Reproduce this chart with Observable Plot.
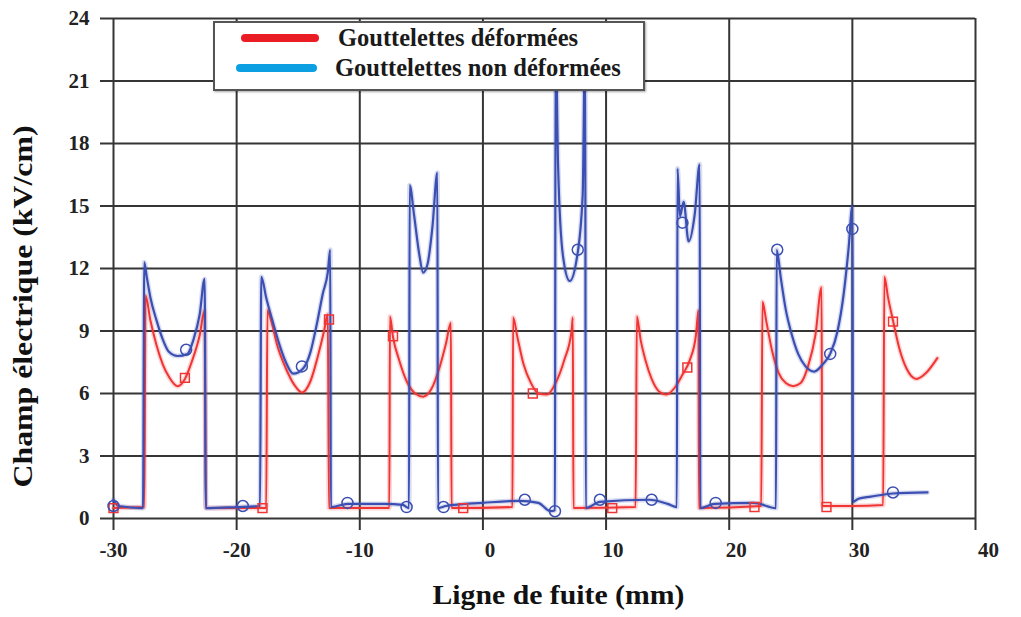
<!DOCTYPE html>
<html>
<head>
<meta charset="utf-8">
<script src="https://cdn.jsdelivr.net/npm/d3@7"></script>
<script src="https://cdn.jsdelivr.net/npm/@observablehq/plot@0.6"></script>
<style>
  body { margin: 0; background: #fff; }
  #wrap { position: relative; width: 1021px; height: 617px; font-family: "Liberation Serif", "DejaVu Serif", serif; }
  #legend { position: absolute; left: 213px; top: 21px; width: 428px; height: 66px; background: #fff;
            border: 2px solid #555; box-shadow: 1px 1px 2px rgba(0,0,0,0.35); }
  .row { position: absolute; left: 0; height: 30px; width: 100%; }
  .sw { position: absolute; height: 8px; border-radius: 4px; }
  .lab { position: absolute; font-weight: bold; font-size: 24.5px; color: #1a1a1a; white-space: nowrap; line-height: 30px; }
</style>
</head>
<body>
<div id="wrap"></div>
<script>
// Axis ticks
const xTicks = [-30, -20, -10, 0, 10, 20, 30, 40];
const yTicks = [0, 3, 6, 9, 12, 15, 18, 21, 24];

// Series labels
const seriesNames = ["Gouttelettes déformées", "Gouttelettes non déformées"];
const xTitle = "Ligne de fuite (mm)";
const yTitle = "Champ électrique (kV/cm)";

// Gouttelettes déformées (red)
const deformedX = [-30, -27.5, -27.4, -27.0, -26.5, -26.0, -25.5, -24.8, -24.2, -23.6, -23.0, -22.6, -22.5,
  -17.6, -17.5, -17.2, -16.7, -16.0, -15.3, -14.7, -14.0, -13.4, -12.9, -12.6, -12.5,
  -7.6, -7.55, -7.3, -6.8, -6.2, -5.5, -4.85, -4.2, -3.5, -3.0, -2.6, -2.55,
  2.4, 2.45, 2.8, 3.3, 3.9, 4.5, 5.2, 5.9, 6.6, 7.2, 7.3, 7.35,
  12.4, 12.5, 12.8, 13.2, 13.7, 14.3, 14.9, 15.6, 16.2, 16.8, 17.3, 17.5, 17.55,
  22.6, 22.7, 23.0, 23.5, 24.0, 24.6, 25.2, 25.8, 26.4, 27.0, 27.5, 27.55,
  30.0, 32.5, 32.6, 32.9, 33.3, 33.8, 34.4, 35.2, 36.0, 36.9];
const deformedY = [0.5, 0.55, 10.7, 9.5, 8.3, 7.4, 6.8, 6.35, 6.7, 7.6, 8.8, 10.0, 0.5,
  0.5, 10.0, 9.5, 8.3, 7.2, 6.4, 6.05, 6.6, 7.8, 9.0, 9.8, 0.5,
  0.5, 9.7, 8.7, 7.6, 6.6, 6.0, 5.85, 6.2, 7.3, 8.4, 9.4, 0.5,
  0.55, 9.65, 8.7, 7.4, 6.5, 6.0, 5.95, 6.5, 7.6, 9.0, 9.65, 0.5,
  0.55, 9.7, 8.6, 7.6, 6.7, 6.1, 5.95, 6.3, 6.9, 7.6, 8.8, 10.0, 0.5,
  0.6, 10.4, 9.5, 8.0, 7.0, 6.5, 6.35, 6.5, 7.3, 8.8, 11.1, 0.6,
  0.6, 0.65, 11.6, 10.6, 9.5, 8.2, 7.2, 6.7, 7.0, 7.7];

// Gouttelettes non déformées (blue)
const nonDeformedX = [-30, -29.6, -27.6, -27.5, -27.3, -27.0, -26.5, -26.0, -25.5, -24.8, -24.0, -23.5, -23.0, -22.6, -22.5,
  -20.0, -18.1, -18.0, -17.6, -17.0, -16.5, -16.0, -15.4, -14.6, -14.0, -13.5, -13.0, -12.6, -12.4, -12.35,
  -11.0, -8.0, -6.5, -6.0, -5.95, -5.6, -5.2, -4.85, -4.5, -4.1, -3.7, -3.65,
  -3.0, 0.0, 3.0, 4.5, 5.5, 5.85, 5.9, 6.1, 6.5, 7.05, 7.6, 8.1, 8.3, 8.35,
  9.5, 13.5, 15.0, 15.75, 15.8, 16.0, 16.3, 16.7, 17.2, 17.6, 17.65,
  18.8, 22.0, 23.8, 23.85, 24.2, 24.6, 25.0, 25.6, 26.2, 26.9, 27.6, 28.2, 28.8, 29.3, 29.7, 30.0, 30.05,
  30.5, 31.5, 33.3, 36.1];
const nonDeformedY = [0.9, 0.6, 0.5, 12.3, 11.6, 10.6, 9.5, 8.6, 8.0, 7.8, 7.9, 8.6, 9.8, 11.5, 0.5,
  0.55, 0.6, 11.6, 10.6, 9.3, 8.3, 7.5, 6.95, 7.2, 8.0, 9.3, 10.8, 11.8, 12.9, 0.55,
  0.7, 0.7, 0.65, 0.5, 16.0, 14.6, 12.8, 11.8, 12.2, 14.0, 16.6, 0.5,
  0.6, 0.75, 0.85, 0.75, 0.35, 0.4, 23.5, 17.0, 12.6, 11.4, 12.4, 15.5, 23.5, 0.5,
  0.8, 0.9, 0.7, 0.55, 16.8, 14.5, 15.2, 13.3, 14.6, 17.0, 0.5,
  0.7, 0.75, 0.5, 12.9, 11.5, 10.0, 9.0, 7.9, 7.3, 7.05, 7.4, 7.9, 9.0, 10.8, 13.0, 15.0, 0.8,
  0.95, 1.05, 1.2, 1.25];

// Marker positions
const deformedMarkX = [-30, -24.2, -17.9, -12.5, -7.3, -1.6, 4.05, 10.5, 16.6, 22.05, 27.9, 33.3];
const deformedMarkY = [0.5, 6.75, 0.5, 9.55, 8.75, 0.5, 6.0, 0.5, 7.25, 0.55, 0.55, 9.45];
const nonDeformedMarkX = [-30, -24.1, -19.5, -14.7, -11.0, -6.2, -3.2, 3.4, 5.85, 7.7, 9.5, 13.7, 16.2, 18.9, 23.9, 28.2, 30.0, 33.3];
const nonDeformedMarkY = [0.6, 8.1, 0.6, 7.3, 0.75, 0.55, 0.55, 0.9, 0.35, 12.9, 0.9, 0.9, 14.2, 0.75, 12.9, 7.9, 13.9, 1.25];

const lineRed = "#f03535", lineBlue = "#3b4fb2";
const legendRed = "#ea1c24", legendBlue = "#0ca0e2";
const gridColor = "#353535";

const toPts = (xs, ys) => xs.map((x, i) => ({x, y: ys[i]}));
const red = toPts(deformedX, deformedY);
const blue = toPts(nonDeformedX, nonDeformedY);
const redM = toPts(deformedMarkX, deformedMarkY);
const blueM = toPts(nonDeformedMarkX, nonDeformedMarkY);

const chart = Plot.plot({
  width: 1021,
  height: 617,
  marginLeft: 113,
  marginRight: 46,
  marginTop: 18,
  marginBottom: 99,
  style: {fontFamily: "'Liberation Serif', serif", fontWeight: "bold", fontSize: "21px", color: "#222", background: "#fff"},
  x: {domain: [-30, 40]},
  y: {domain: [0, 24]},
  marks: [
    Plot.gridX(xTicks, {stroke: gridColor, strokeOpacity: 1, strokeWidth: 2}),
    Plot.gridY(yTicks, {stroke: gridColor, strokeOpacity: 1, strokeWidth: 2}),
    Plot.axisX(xTicks, {tickSize: 12, tickPadding: 12, stroke: gridColor, strokeWidth: 2, text: null, label: null}),
    Plot.axisX(xTicks.filter(d => d < 0), {tickSize: 0, tickPadding: 24, tickFormat: d => String(d), label: null, fontSize: 21}),
    Plot.axisX(xTicks.filter(d => d >= 0 && d < 40), {tickSize: 0, tickPadding: 24, dx: 7, tickFormat: d => String(d), label: null, fontSize: 21}),
    Plot.axisX(xTicks.filter(d => d >= 40), {tickSize: 0, tickPadding: 24, dx: 13, tickFormat: d => String(d), label: null, fontSize: 21}),
    Plot.axisY(yTicks, {tickSize: 13, tickPadding: 11, stroke: gridColor, strokeWidth: 2, tickFormat: d => String(d), label: null, fontSize: 21}),
    Plot.line(red, {x: "x", y: "y", curve: "monotone-x", stroke: lineRed, strokeWidth: 5, strokeOpacity: 0.2}),
    Plot.line(blue, {x: "x", y: "y", curve: "monotone-x", stroke: lineBlue, strokeWidth: 5, strokeOpacity: 0.2}),
    Plot.line(red, {x: "x", y: "y", curve: "monotone-x", stroke: lineRed, strokeWidth: 2}),
    Plot.line(blue, {x: "x", y: "y", curve: "monotone-x", stroke: lineBlue, strokeWidth: 2.2}),
    Plot.dot(redM, {x: "x", y: "y", symbol: "square", r: 5, stroke: lineRed, fill: "none", strokeWidth: 1.5}),
    Plot.dot(blueM, {x: "x", y: "y", r: 5.5, stroke: lineBlue, fill: "none", strokeWidth: 1.5}),
    Plot.text([xTitle], {frameAnchor: "bottom", dx: 14, dy: 85, fontSize: 27, fontWeight: "bold", fill: "#111"}),
    Plot.text([yTitle], {frameAnchor: "left", textAnchor: "middle", dx: -90, dy: 38, rotate: -90, fontSize: 27, fontWeight: "bold", fill: "#111"})
  ]
});

// stretch titles to the reference widths
d3.select(chart).selectAll("text").each(function() {
  const t = this.textContent;
  if (t === xTitle) d3.select(this).attr("textLength", 252).attr("lengthAdjust", "spacingAndGlyphs");
  if (t === yTitle) d3.select(this).attr("textLength", 362).attr("lengthAdjust", "spacingAndGlyphs");
});

const wrap = document.getElementById("wrap");
wrap.appendChild(chart);

// Legend (HTML overlay)
const legend = document.createElement("div");
legend.id = "legend";
const rows = [
  {name: seriesNames[0], color: legendRed, top: 0, swLeft: 26, swW: 78, txtLeft: 123},
  {name: seriesNames[1], color: legendBlue, top: 30, swLeft: 21, swW: 81, txtLeft: 120}
];
for (const r of rows) {
  const row = document.createElement("div");
  row.className = "row";
  row.style.top = r.top + "px";
  const sw = document.createElement("div");
  sw.className = "sw";
  sw.style.left = r.swLeft + "px";
  sw.style.width = r.swW + "px";
  sw.style.top = "11px";
  sw.style.background = r.color;
  const lab = document.createElement("div");
  lab.className = "lab";
  lab.style.left = r.txtLeft + "px";
  lab.style.top = "0px";
  lab.textContent = r.name;
  row.appendChild(sw);
  row.appendChild(lab);
  legend.appendChild(row);
}
wrap.appendChild(legend);
</script>
</body>
</html>
